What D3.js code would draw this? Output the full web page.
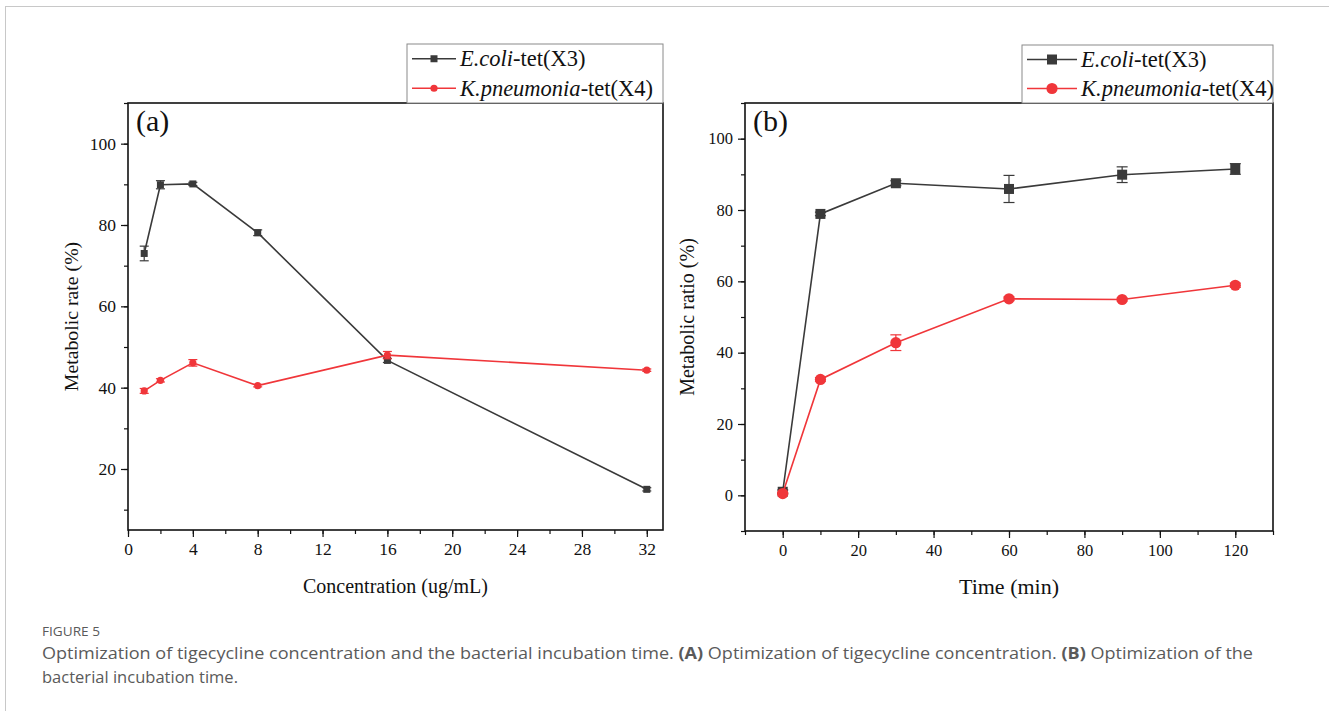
<!DOCTYPE html>
<html>
<head>
<meta charset="utf-8">
<script src="https://cdn.jsdelivr.net/npm/d3@7/dist/d3.min.js"></script>
<style>
  html, body { margin: 0; padding: 0; background: #fff; }
  svg { display: block; }
</style>
</head>
<body>
<div id="chart"></div>
<script>
// Figure 5 – two panels, metabolic rate vs concentration / time
const SERIES_NAMES = ["E.coli", "K.pneumonia"];
const SERIES_TAGS  = ["-tet(X3)", "-tet(X4)"];

// panel (a)
const concX      = [1, 2, 4, 8, 16, 32];
const ecoliConc  = [73.0, 89.9, 90.1, 78.1, 46.7, 15.0];
const ecoliConcE = [1.8, 1.0, 0.4, 0.7, 0.5, 0.4];
const kpnConc    = [39.2, 41.8, 46.1, 40.5, 48.0, 44.3];
const kpnConcE   = [0.6, 0.4, 0.8, 0.3, 0.9, 0.3];
const concTicks  = [0, 4, 8, 12, 16, 20, 24, 28, 32];
const rateTicks  = [20, 40, 60, 80, 100];

// panel (b)
const timeX      = [0, 10, 30, 60, 90, 120];
const ecoliTime  = [1.0, 78.9, 87.5, 85.9, 89.9, 91.5];
const ecoliTimeE = [0.5, 0.5, 0.7, 3.8, 2.2, 1.5];
const kpnTime    = [0.5, 32.5, 42.8, 55.1, 54.9, 58.9];
const kpnTimeE   = [0.3, 0.5, 2.2, 0.5, 0.4, 0.6];
const timeTicks  = [0, 20, 40, 60, 80, 100, 120];
const ratioTicks = [0, 20, 40, 60, 80, 100];

const W = 1329, H = 711;
const BLACK = "#3a3a3a", RED = "#f0363a";
const SERIF = "'Liberation Serif', 'Times New Roman', serif";

const svg = d3.select("#chart").append("svg").attr("width", W).attr("height", H);

// page frame lines
svg.append("line").attr("x1", 5).attr("x2", W).attr("y1", 6.5).attr("y2", 6.5)
  .attr("stroke", "#c8c8c8").attr("stroke-width", 1);
svg.append("line").attr("x1", 5.5).attr("x2", 5.5).attr("y1", 6).attr("y2", H)
  .attr("stroke", "#c8c8c8").attr("stroke-width", 1);

function drawPanel(p){
  const g = svg.append("g");
  const x = d3.scaleLinear().domain(p.xDomain).range([p.left, p.right]);
  const y = d3.scaleLinear().domain(p.yDomain).range([p.bottom, p.top]);

  // axes: major + minor ticks outward
  const xMinor = d3.range(p.xDomain[0], p.xDomain[1] + 0.001, p.xMinorStep);
  const yMinor = d3.range(Math.ceil(p.yDomain[0] / p.yMinorStep) * p.yMinorStep, p.yDomain[1] + 0.001, p.yMinorStep);

  g.append("g").attr("transform", `translate(0,${p.bottom})`)
    .call(d3.axisBottom(x).tickValues(xMinor).tickSize(4).tickFormat(""))
    .call(a => a.select(".domain").remove())
    .call(a => a.selectAll("line").attr("stroke", "#111").attr("stroke-width", 1.2));
  g.append("g").attr("transform", `translate(0,${p.bottom})`)
    .call(d3.axisBottom(x).tickValues(p.xTicks).tickSize(7).tickPadding(6))
    .call(a => a.select(".domain").remove())
    .call(a => a.selectAll("line").attr("stroke", "#111").attr("stroke-width", 1.2))
    .call(a => a.selectAll("text").attr("font-family", SERIF).attr("font-size", p.tickFont).attr("fill", "#111"));

  g.append("g").attr("transform", `translate(${p.left},0)`)
    .call(d3.axisLeft(y).tickValues(yMinor).tickSize(4).tickFormat(""))
    .call(a => a.select(".domain").remove())
    .call(a => a.selectAll("line").attr("stroke", "#111").attr("stroke-width", 1.2));
  g.append("g").attr("transform", `translate(${p.left},0)`)
    .call(d3.axisLeft(y).tickValues(p.yTicks).tickSize(7).tickPadding(5))
    .call(a => a.select(".domain").remove())
    .call(a => a.selectAll("line").attr("stroke", "#111").attr("stroke-width", 1.2))
    .call(a => a.selectAll("text").attr("font-family", SERIF).attr("font-size", p.tickFont).attr("fill", "#111"));

  // frame
  g.append("rect").attr("x", p.left).attr("y", p.top)
    .attr("width", p.right - p.left).attr("height", p.bottom - p.top)
    .attr("fill", "none").attr("stroke", "#111").attr("stroke-width", 1.6);

  // series
  const series = [
    {xs: p.xs, ys: p.ys[0], es: p.es[0], color: BLACK, shape: "square"},
    {xs: p.xs, ys: p.ys[1], es: p.es[1], color: RED,   shape: "circle"}
  ];
  const line = d3.line().x(d => x(d.x)).y(d => y(d.y));
  series.forEach(s => {
    const pts = s.xs.map((v, i) => ({x: v, y: s.ys[i], e: s.es[i]}));
    const sg = g.append("g");
    sg.append("path").datum(pts).attr("d", line)
      .attr("fill", "none").attr("stroke", s.color).attr("stroke-width", 1.6);
    // error bars
    const eb = sg.selectAll("g.eb").data(pts).join("g").attr("class", "eb")
      .attr("stroke", s.color).attr("stroke-width", 1.2);
    eb.append("line").attr("x1", d => x(d.x)).attr("x2", d => x(d.x))
      .attr("y1", d => y(d.y - d.e)).attr("y2", d => y(d.y + d.e));
    eb.append("line").attr("x1", d => x(d.x) - p.cap).attr("x2", d => x(d.x) + p.cap)
      .attr("y1", d => y(d.y - d.e)).attr("y2", d => y(d.y - d.e));
    eb.append("line").attr("x1", d => x(d.x) - p.cap).attr("x2", d => x(d.x) + p.cap)
      .attr("y1", d => y(d.y + d.e)).attr("y2", d => y(d.y + d.e));
    // markers
    if (s.shape === "square"){
      sg.selectAll("rect").data(pts).join("rect")
        .attr("x", d => x(d.x) - p.sq / 2).attr("y", d => y(d.y) - p.sq / 2)
        .attr("width", p.sq).attr("height", p.sq).attr("fill", s.color);
    } else {
      sg.selectAll("circle").data(pts).join("circle")
        .attr("cx", d => x(d.x)).attr("cy", d => y(d.y)).attr("r", p.rad).attr("fill", s.color);
    }
  });

  // panel letter
  g.append("text").attr("x", p.left + 8).attr("y", p.top + 28)
    .attr("font-family", SERIF).attr("font-size", 30).attr("fill", "#111").text(p.letter);

  // axis titles
  g.append("text")
    .attr("transform", `translate(${p.yLabelX},${(p.top + p.bottom) / 2}) rotate(-90)`)
    .attr("text-anchor", "middle").attr("font-family", SERIF).attr("font-size", p.labelFont)
    .attr("fill", "#111").text(p.yLabel);
  g.append("text").attr("x", (p.left + p.right) / 2).attr("y", p.xLabelY)
    .attr("text-anchor", "middle").attr("font-family", SERIF).attr("font-size", p.xLabelFont)
    .attr("fill", "#111").text(p.xLabel);

  // legend
  const lg = g.append("g");
  lg.append("rect").attr("x", p.legX).attr("y", p.legTop)
    .attr("width", p.right - p.legX).attr("height", p.top - p.legTop)
    .attr("fill", "#fff").attr("stroke", "#8a8a8a").attr("stroke-width", 1);
  const rowH = (p.top - p.legTop) / 2;
  [BLACK, RED].forEach((c, i) => {
    const cy = p.legTop + rowH * (i + 0.5);
    const x0 = p.legX + 5, x1 = x0 + p.legLine;
    lg.append("line").attr("x1", x0).attr("x2", x1).attr("y1", cy).attr("y2", cy)
      .attr("stroke", c).attr("stroke-width", 1.6);
    if (i === 0){
      lg.append("rect").attr("x", (x0 + x1) / 2 - p.sq / 2).attr("y", cy - p.sq / 2)
        .attr("width", p.sq).attr("height", p.sq).attr("fill", c);
    } else {
      lg.append("circle").attr("cx", (x0 + x1) / 2).attr("cy", cy).attr("r", p.rad).attr("fill", c);
    }
    const t = lg.append("text").attr("x", x1 + 4).attr("y", cy + p.legFont * 0.34)
      .attr("font-family", SERIF).attr("font-size", p.legFont).attr("fill", "#111");
    t.append("tspan").attr("font-style", "italic").text(SERIES_NAMES[i]);
    t.append("tspan").text(SERIES_TAGS[i]);
  });
}

drawPanel({
  letter: "(a)", left: 128, right: 663, top: 103, bottom: 530,
  xDomain: [0, 33], yDomain: [5, 110], xMinorStep: 2, yMinorStep: 10,
  xTicks: concTicks, yTicks: rateTicks, tickFont: 17.5,
  xs: concX, ys: [ecoliConc, kpnConc], es: [ecoliConcE, kpnConcE],
  sq: 7, rad: 3.6, cap: 4.5,
  yLabel: "Metabolic rate (%)", yLabelX: 78, labelFont: 19.8,
  xLabel: "Concentration (ug/mL)", xLabelY: 593, xLabelFont: 20,
  legX: 407, legTop: 44, legLine: 44, legFont: 22.5
});

drawPanel({
  letter: "(b)", left: 745, right: 1273, top: 103, bottom: 531,
  xDomain: [-10, 130], yDomain: [-10, 110], xMinorStep: 10, yMinorStep: 10,
  xTicks: timeTicks, yTicks: ratioTicks, tickFont: 16.5,
  xs: timeX, ys: [ecoliTime, kpnTime], es: [ecoliTimeE, kpnTimeE],
  sq: 10, rad: 5.6, cap: 5.5,
  yLabel: "Metabolic ratio (%)", yLabelX: 694, labelFont: 20,
  xLabel: "Time (min)", xLabelY: 594, xLabelFont: 22,
  legX: 1022, legTop: 45, legLine: 50, legFont: 22.5
});

// caption
const SANS = "'Open Sans', 'Noto Sans', sans-serif";
svg.append("text").attr("x", 42).attr("y", 636)
  .attr("font-family", SANS).attr("font-size", 12.5).attr("fill", "#5a5a5a")
  .attr("textLength", 58).attr("lengthAdjust", "spacingAndGlyphs").text("FIGURE 5");
const cap1 = svg.append("text").attr("x", 42).attr("y", 659)
  .attr("font-family", SANS).attr("font-size", 16.5).attr("fill", "#5a5a5a")
  .attr("textLength", 1211).attr("lengthAdjust", "spacingAndGlyphs");
cap1.append("tspan").text("Optimization of tigecycline concentration and the bacterial incubation time. ");
cap1.append("tspan").attr("font-weight", 700).text("(A)");
cap1.append("tspan").text(" Optimization of tigecycline concentration. ");
cap1.append("tspan").attr("font-weight", 700).text("(B)");
cap1.append("tspan").text(" Optimization of the");
svg.append("text").attr("x", 42).attr("y", 683)
  .attr("font-family", SANS).attr("font-size", 16.5).attr("fill", "#5a5a5a")
  .attr("textLength", 196).attr("lengthAdjust", "spacingAndGlyphs")
  .text("bacterial incubation time.");
</script>
</body>
</html>
